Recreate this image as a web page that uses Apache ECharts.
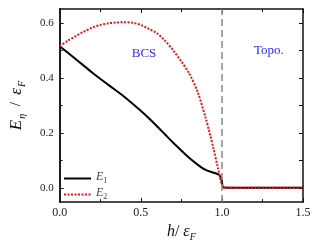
<!DOCTYPE html>
<html>
<head>
<meta charset="utf-8">
<script src="https://cdn.jsdelivr.net/npm/echarts@6/dist/echarts.min.js"></script>
<style>html,body{margin:0;padding:0;background:#fff;}#c{width:318px;height:249px;}</style>
</head>
<body>
<div id="c"></div>
<script>
// h / eps_F values and energies
const h1 = [0, 0.1, 0.2, 0.3, 0.4, 0.5, 0.55, 0.6, 0.65, 0.7, 0.75, 0.8, 0.85, 0.875, 0.9, 0.93, 0.96, 0.98, 0.99, 1.0, 1.01, 1.1, 1.2, 1.3, 1.4, 1.5];
const e1 = [0.515, 0.468, 0.42, 0.375, 0.331, 0.281, 0.254, 0.225, 0.195, 0.165, 0.137, 0.11, 0.086, 0.075, 0.067, 0.06, 0.055, 0.05, 0.043, 0.025, 0.003, 0.002, 0.002, 0.002, 0.002, 0.002];
const h2 = [0, 0.05, 0.1, 0.15, 0.2, 0.25, 0.3, 0.35, 0.4, 0.45, 0.5, 0.55, 0.6, 0.65, 0.7, 0.75, 0.8, 0.85, 0.9, 0.925, 0.95, 0.975, 1.0, 1.01, 1.1, 1.2, 1.3, 1.4, 1.5];
const e2 = [0.515, 0.535, 0.552, 0.568, 0.582, 0.592, 0.598, 0.601, 0.602, 0.6, 0.592, 0.578, 0.562, 0.535, 0.5, 0.46, 0.415, 0.35, 0.255, 0.2, 0.14, 0.075, 0.012, 0.002, 0.002, 0.002, 0.002, 0.002, 0.002];
const yMajorTicks = [0, 0.2, 0.4, 0.6];
const yMinorTicks = [0.1, 0.3, 0.5];
const yAllTicks = [0, 0.1, 0.2, 0.3, 0.4, 0.5, 0.6];
const transitionH = 1.0;
const regionLabels = [
  { text: 'BCS', h: 0.52, e: 0.49 },
  { text: 'Topo.', h: 1.29, e: 0.5 }
];

const FONT = 'Liberation Serif';
const zip = (a, b) => a.map((v, i) => [v, b[i]]);

const chart = echarts.init(document.getElementById('c'), null, { renderer: 'canvas' });

const axisLineStyle = { show: true, onZero: false, lineStyle: { color: '#111', width: 1.5 } };
const xCommon = {
  type: 'value', min: 0, max: 1.5, interval: 0.5,
  axisLine: axisLineStyle,
  splitLine: { show: false },
  axisTick: { show: true, inside: true, length: 4, lineStyle: { color: '#111', width: 1 } },
  minorTick: { show: true, splitNumber: 2, length: 3, lineStyle: { color: '#111', width: 1 } },
  minorSplitLine: { show: false }
};
const yCommon = {
  type: 'value', min: -0.05, max: 0.65,
  axisLine: axisLineStyle,
  splitLine: { show: false }
};

const option = {
  animation: false,
  backgroundColor: '#fff',
  grid: { left: 50, right: 15, top: 9, bottom: 36 },
  xAxis: [
    Object.assign({}, xCommon, {
      position: 'bottom',
      axisLabel: { show: true, margin: 5, color: '#222', fontFamily: FONT, fontSize: 12, formatter: v => v.toFixed(1) },
      name: '{i|h}{n|/ }{i|ε}{s|F}',
      nameLocation: 'middle',
      nameGap: 11,
      nameTextStyle: {
        fontFamily: FONT, color: '#111',
        rich: {
          i: { fontFamily: FONT, fontStyle: 'italic', fontSize: 16, lineHeight: 16, padding: [0, 0, 4, 0], color: '#111' },
          n: { fontFamily: FONT, fontSize: 16, lineHeight: 16, padding: [0, 0, 4, 0], color: '#111' },
          s: { fontFamily: FONT, fontStyle: 'italic', fontSize: 10, lineHeight: 10, verticalAlign: 'bottom', color: '#111' }
        }
      }
    }),
    Object.assign({}, xCommon, { position: 'top', axisLabel: { show: false } })
  ],
  yAxis: [
    Object.assign({}, yCommon, {
      position: 'left',
      axisTick: { show: true, inside: true, length: 4, customValues: yMajorTicks, lineStyle: { color: '#111', width: 1 } },
      axisLabel: { show: true, margin: 6, customValues: yMajorTicks, color: '#222', fontFamily: FONT, fontSize: 11, formatter: v => v.toFixed(1) },
      name: '{i|E}{s|η}{n|  /  }{i|ε}{s|F}',
      nameLocation: 'middle',
      nameGap: 23,
      nameTextStyle: {
        fontFamily: FONT, color: '#111',
        rich: {
          i: { fontFamily: FONT, fontStyle: 'italic', fontSize: 17, lineHeight: 17, padding: [0, 1, 4, 0], color: '#111' },
          n: { fontFamily: FONT, fontSize: 15, lineHeight: 17, padding: [0, 0, 4, 0], color: '#111' },
          s: { fontFamily: FONT, fontStyle: 'italic', fontSize: 10, lineHeight: 10, verticalAlign: 'bottom', color: '#111' }
        }
      }
    }),
    Object.assign({}, yCommon, {
      position: 'left',
      axisTick: { show: true, inside: true, length: 3, customValues: yMinorTicks, lineStyle: { color: '#111', width: 1 } },
      axisLabel: { show: false }
    }),
    Object.assign({}, yCommon, {
      position: 'right',
      axisTick: { show: true, inside: true, length: 4, customValues: yAllTicks, lineStyle: { color: '#111', width: 1 } },
      axisLabel: { show: false }
    })
  ],
  legend: {
    orient: 'vertical',
    left: 63, top: 171, padding: 0,
    itemWidth: 27, itemHeight: 8, itemGap: 1,
    data: ['E1', 'E2'],
    itemStyle: { opacity: 0, color: 'transparent', borderColor: 'transparent', borderWidth: 0 },
    formatter: name => '{i|E}{s|' + name.slice(1) + '}',
    textStyle: {
      fontFamily: FONT, color: '#444',
      rich: {
        i: { fontFamily: FONT, fontStyle: 'italic', fontSize: 12, lineHeight: 12, padding: [0, 0, 3, 0], color: '#444' },
        s: { fontFamily: FONT, fontSize: 8, lineHeight: 8, verticalAlign: 'bottom', color: '#444' }
      }
    }
  },
  series: [
    {
      name: 'E1', type: 'line', xAxisIndex: 0, yAxisIndex: 0,
      data: zip(h1, e1), symbol: 'none', smooth: 0.3, z: 3,
      lineStyle: { color: '#000', width: 2 }, itemStyle: { color: '#000' },
      markLine: {
        silent: true, symbol: 'none', label: { show: false },
        lineStyle: { color: '#888', width: 1.5, type: [7, 4] },
        data: [{ xAxis: transitionH }]
      },
      markPoint: {
        silent: true, symbol: 'circle', symbolSize: 0,
        label: { show: true, position: 'inside', color: '#2a2aff', fontFamily: FONT, fontSize: 13 },
        data: regionLabels.map(r => ({ coord: [r.h, r.e], value: r.text, label: { formatter: r.text } }))
      }
    },
    {
      name: 'E2', type: 'line', xAxisIndex: 0, yAxisIndex: 0,
      data: zip(h2, e2), symbol: 'none', smooth: 0.3, z: 4,
      lineStyle: { color: '#ee1111', width: 2, type: [2, 1.5] }, itemStyle: { color: '#ee1111' }
    }
  ]
};
chart.setOption(option);
</script>
</body>
</html>
